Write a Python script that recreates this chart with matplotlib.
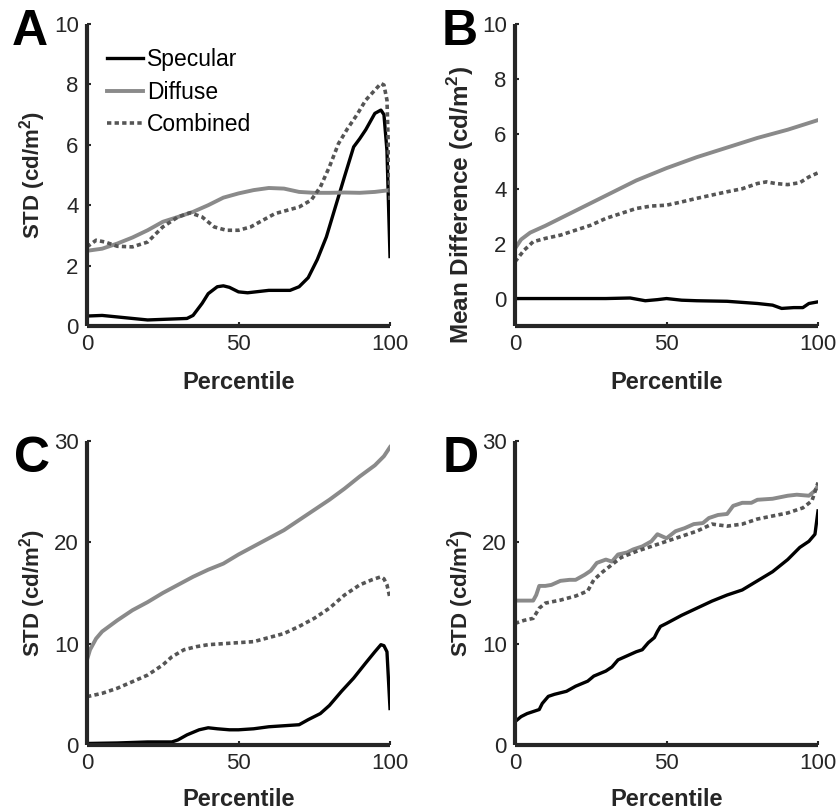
import numpy as np
import matplotlib
matplotlib.use("Agg")
from matplotlib import pyplot as plt

plt.rcParams['font.family'] = ['Liberation Sans', 'DejaVu Sans']
plt.rcParams['mathtext.fontset'] = 'custom'
plt.rcParams['mathtext.rm'] = 'Liberation Sans'
plt.rcParams['mathtext.bf'] = 'Liberation Sans:bold'

#
# data (x = percentile)
#
# panel A
a_spec_x = [0, 5, 10, 20, 33, 35, 38, 40, 43, 45, 47, 50, 53, 60, 67, 70, 73, 76, 79, 82, 85, 88, 90, 92, 95, 97, 98, 99, 100]
a_spec_y = [0.33, 0.35, 0.3, 0.2, 0.25, 0.35, 0.75, 1.07, 1.3, 1.33, 1.28, 1.13, 1.1, 1.18, 1.18, 1.3, 1.6, 2.2, 2.95, 3.95, 4.95, 5.93, 6.2, 6.5, 7.04, 7.15, 7.0, 5.8, 2.3]
a_diff_x = [0, 5, 10, 15, 20, 25, 30, 35, 40, 45, 50, 55, 60, 65, 70, 75, 80, 85, 90, 95, 100]
a_diff_y = [2.49, 2.56, 2.73, 2.93, 3.17, 3.45, 3.61, 3.78, 4.0, 4.25, 4.39, 4.5, 4.57, 4.55, 4.44, 4.41, 4.41, 4.42, 4.41, 4.44, 4.5]
a_comb_x = [0, 3, 6, 10, 15, 20, 25, 30, 34, 38, 42, 46, 50, 54, 58, 62, 66, 70, 74, 77, 80, 83, 86, 89, 92, 95, 97, 98, 99, 100]
a_comb_y = [2.62, 2.84, 2.78, 2.64, 2.62, 2.78, 3.28, 3.61, 3.75, 3.61, 3.28, 3.17, 3.17, 3.28, 3.5, 3.72, 3.83, 3.94, 4.17, 4.6, 5.27, 6.04, 6.54, 6.98, 7.48, 7.81, 8.03, 7.98, 7.48, 4.1]

# panel B
b_spec_x = [0, 10, 20, 30, 38, 43, 47, 50, 55, 60, 70, 80, 85, 88, 92, 95, 97, 100]
b_spec_y = [0.0, 0.0, 0.0, 0.0, 0.02, -0.08, -0.04, 0.0, -0.06, -0.08, -0.1, -0.18, -0.24, -0.36, -0.33, -0.33, -0.18, -0.12]
b_diff_x = [0, 2, 5, 10, 20, 30, 40, 50, 60, 70, 80, 90, 100]
b_diff_y = [1.82, 2.15, 2.4, 2.65, 3.2, 3.75, 4.3, 4.75, 5.15, 5.5, 5.85, 6.15, 6.5]
b_comb_x = [0, 3, 6, 10, 15, 20, 25, 30, 35, 40, 45, 50, 55, 60, 65, 70, 75, 80, 83, 86, 90, 94, 97, 100]
b_comb_y = [1.34, 1.76, 2.07, 2.19, 2.31, 2.49, 2.67, 2.92, 3.1, 3.28, 3.37, 3.4, 3.52, 3.65, 3.77, 3.89, 4.0, 4.19, 4.25, 4.19, 4.15, 4.22, 4.43, 4.58]

# panel C
c_spec_x = [0, 10, 20, 28, 30, 33, 37, 40, 43, 47, 50, 55, 60, 65, 70, 73, 77, 80, 84, 88, 92, 95, 97, 98, 99, 100]
c_spec_y = [0.15, 0.2, 0.3, 0.3, 0.5, 1.0, 1.5, 1.7, 1.6, 1.5, 1.5, 1.6, 1.8, 1.9, 2.0, 2.5, 3.1, 3.9, 5.3, 6.6, 8.1, 9.2, 9.9, 9.8, 9.2, 3.6]
c_diff_x = [0, 1, 3, 5, 10, 15, 20, 25, 30, 35, 40, 45, 50, 55, 60, 65, 70, 75, 80, 85, 90, 95, 98, 100]
c_diff_y = [8.4, 9.4, 10.5, 11.2, 12.3, 13.3, 14.1, 15.0, 15.8, 16.6, 17.3, 17.9, 18.8, 19.6, 20.4, 21.2, 22.2, 23.2, 24.2, 25.3, 26.5, 27.6, 28.5, 29.4]
c_comb_x = [0, 5, 10, 15, 20, 25, 28, 32, 36, 40, 45, 50, 55, 60, 65, 70, 75, 80, 85, 90, 94, 97, 98, 99, 100]
c_comb_y = [4.77, 5.1, 5.6, 6.25, 6.9, 7.9, 8.7, 9.4, 9.7, 9.9, 10.0, 10.1, 10.2, 10.6, 11.0, 11.7, 12.5, 13.5, 14.8, 15.8, 16.3, 16.6, 16.4, 15.8, 14.5]

# panel D
d_spec_x = [0, 2, 4, 8, 9, 11, 13, 17, 20, 24, 26, 30, 32, 34, 37, 40, 42, 44, 46, 47, 48, 50, 55, 60, 65, 70, 75, 80, 85, 90, 94, 97, 99, 100]
d_spec_y = [2.3, 2.8, 3.1, 3.5, 4.1, 4.8, 5.0, 5.3, 5.8, 6.3, 6.8, 7.3, 7.7, 8.4, 8.8, 9.2, 9.4, 10.1, 10.6, 11.2, 11.7, 12.0, 12.8, 13.5, 14.2, 14.8, 15.3, 16.2, 17.1, 18.3, 19.5, 20.1, 20.8, 23.1]
d_diff_x = [0, 6, 7, 8, 10, 12, 15, 18, 20, 23, 25, 27, 30, 32, 34, 37, 39, 42, 45, 47, 50, 53, 56, 59, 62, 64, 67, 70, 72, 75, 78, 80, 85, 90, 93, 97, 99, 100]
d_diff_y = [14.25, 14.25, 14.8, 15.7, 15.7, 15.8, 16.2, 16.3, 16.3, 16.8, 17.2, 17.97, 18.3, 18.1, 18.8, 19.0, 19.3, 19.6, 20.1, 20.8, 20.4, 21.1, 21.4, 21.8, 21.9, 22.4, 22.7, 22.8, 23.6, 23.9, 23.9, 24.2, 24.3, 24.6, 24.7, 24.6, 25.1, 25.6]
d_comb_x = [0, 3, 6, 8, 10, 15, 20, 24, 26, 29, 32, 35, 40, 45, 50, 55, 60, 65, 70, 75, 80, 85, 90, 95, 98, 100]
d_comb_y = [12.0, 12.3, 12.5, 13.5, 14.0, 14.3, 14.7, 15.2, 16.3, 17.1, 17.8, 18.5, 19.1, 19.6, 20.1, 20.6, 21.1, 21.8, 21.6, 21.8, 22.3, 22.6, 22.9, 23.4, 24.1, 25.9]

series_names = ['Specular', 'Diffuse', 'Combined']
panel_letters = ['A', 'B', 'C', 'D']
ylabels = [r'STD (cd/m$^\mathbf{2}$)', r'Mean Difference (cd/m$^\mathbf{2}$)',
           r'STD (cd/m$^\mathbf{2}$)', r'STD (cd/m$^\mathbf{2}$)']
ylims = [(0, 10), (-1, 10), (0, 30), (0, 30)]
yticks = [[0, 2, 4, 6, 8, 10], [0, 2, 4, 6, 8, 10], [0, 10, 20, 30], [0, 10, 20, 30]]

panels = [
    [(a_spec_x, a_spec_y), (a_diff_x, a_diff_y), (a_comb_x, a_comb_y)],
    [(b_spec_x, b_spec_y), (b_diff_x, b_diff_y), (b_comb_x, b_comb_y)],
    [(c_spec_x, c_spec_y), (c_diff_x, c_diff_y), (c_comb_x, c_comb_y)],
    [(d_spec_x, d_spec_y), (d_diff_x, d_diff_y), (d_comb_x, d_comb_y)],
]

# styles
W, H = 836, 811
ink = '#262626'
line_styles = [
    dict(color='black', lw=2.4, ls='-'),
    dict(color='#8a8a8a', lw=2.8, ls='-'),
    dict(color='#555555', lw=2.6, ls=(0, (1.2, 0.9))),
]
# axes boxes in pixels: left, top, right, bottom
boxes = [(87, 24, 390, 326), (515, 24, 818, 326), (87, 441, 390, 745), (515, 441, 818, 745)]
letter_pos = [(12, 45), (442, 45), (14, 472), (443, 472)]
ylabel_y = [0.5, 0.40, 0.5, 0.5]
ylabel_size = [16, 17.5, 16, 16]
xlabel_y = [-0.15, -0.15, -0.14, -0.14]

fig = plt.figure(figsize=(W / 100, H / 100), dpi=100)

for i, (l, t, r, b) in enumerate(boxes):
    ax = fig.add_axes([l / W, 1 - b / H, (r - l) / W, (b - t) / H])
    for (x, y), st, name in zip(panels[i], line_styles, series_names):
        ax.plot(x, y, label=name, solid_joinstyle='round', **st)
    ax.set_xlim(0, 100)
    ax.set_ylim(*ylims[i])
    ax.set_xticks([0, 50, 100])
    ax.set_yticks(yticks[i])
    for s in ['top', 'right']:
        ax.spines[s].set_visible(False)
    for s in ['left', 'bottom']:
        ax.spines[s].set_linewidth(3)
        ax.spines[s].set_color(ink)
        ax.spines[s].set_capstyle('butt')
    ax.tick_params(direction='in', length=3, width=1.5, colors=ink,
                   labelsize=16, pad=6)
    ax.set_xlabel('Percentile', fontsize=17, fontweight='bold', color=ink)
    ax.set_ylabel(ylabels[i], fontsize=ylabel_size[i], fontweight='bold', color=ink)
    ax.xaxis.set_label_coords(0.5, xlabel_y[i])
    ax.yaxis.set_label_coords(-0.128, ylabel_y[i])
    lx, ly = letter_pos[i]
    fig.text(lx / W, 1 - ly / H, panel_letters[i], fontsize=36,
             fontweight='bold', va='baseline', ha='left', color='black')
    if i == 0:
        ax.legend(loc='upper left', frameon=False, fontsize=16.5,
                  bbox_to_anchor=(107 / W, 1 - 48 / H), bbox_transform=fig.transFigure,
                  borderpad=0, borderaxespad=0, handlelength=1.55,
                  handletextpad=0.2, labelspacing=0.42)

fig.savefig('out.png', dpi=100)
